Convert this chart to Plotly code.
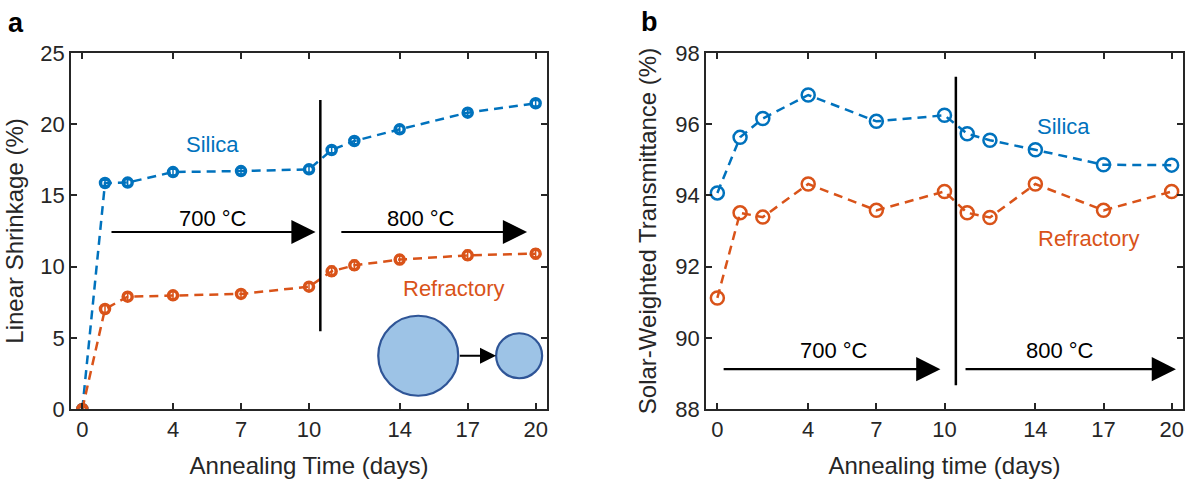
import plotly.graph_objects as go

# ---- data ----
days = [0, 1, 2, 4, 7, 10, 11, 12, 14, 17, 20]
shrink_silica = [0.0, 15.87, 15.9, 16.64, 16.71, 16.83, 18.19, 18.82, 19.64, 20.81, 21.47]
shrink_silica_err = [0.1, 0.2, 0.2, 0.2, 0.2, 0.2, 0.2, 0.2, 0.2, 0.2, 0.2]
shrink_refr = [0.0, 7.02, 7.89, 7.98, 8.08, 8.59, 9.67, 10.09, 10.49, 10.79, 10.91]
shrink_refr_err = [0.1, 0.3, 0.3, 0.3, 0.3, 0.3, 0.35, 0.35, 0.35, 0.35, 0.35]
trans_silica = [94.07, 95.63, 96.16, 96.82, 96.08, 96.25, 95.73, 95.55, 95.28, 94.86, 94.85]
trans_refr = [91.12, 93.51, 93.39, 94.32, 93.58, 94.11, 93.51, 93.38, 94.32, 93.58, 94.11]
xticks = [0, 4, 7, 10, 14, 17, 20]
yticks_a = [0, 5, 10, 15, 20, 25]
yticks_b = [88, 90, 92, 94, 96, 98]

BLUE = "#0072BD"
ORANGE = "#D95319"
AX = "#262626"
FONT = "Liberation Sans, Arial, sans-serif"

fig = go.Figure()

# Panel a
fig.add_trace(go.Scatter(x=days, y=shrink_silica, mode="lines+markers",
                         error_y=dict(type="data", array=shrink_silica_err, color=BLUE, thickness=1.5, width=3),
                         line=dict(color=BLUE, width=2.5, dash="9px,6px"),
                         marker=dict(symbol="circle-open", size=9, color=BLUE, line=dict(width=3.5, color=BLUE)),
                         xaxis="x", yaxis="y", showlegend=False))
fig.add_trace(go.Scatter(x=days, y=shrink_refr, mode="lines+markers",
                         error_y=dict(type="data", array=shrink_refr_err, color=ORANGE, thickness=1.5, width=3),
                         line=dict(color=ORANGE, width=2.5, dash="9px,6px"),
                         marker=dict(symbol="circle-open", size=9, color=ORANGE, line=dict(width=3.5, color=ORANGE)),
                         xaxis="x", yaxis="y", showlegend=False))
# Panel b
fig.add_trace(go.Scatter(x=days, y=trans_silica, mode="lines+markers",
                         line=dict(color=BLUE, width=2.5, dash="9px,6px"),
                         marker=dict(symbol="circle-open", size=13, color=BLUE, line=dict(width=2.5, color=BLUE)),
                         xaxis="x2", yaxis="y2", showlegend=False))
fig.add_trace(go.Scatter(x=days, y=trans_refr, mode="lines+markers",
                         line=dict(color=ORANGE, width=2.5, dash="9px,6px"),
                         marker=dict(symbol="circle-open", size=13, color=ORANGE, line=dict(width=2.5, color=ORANGE)),
                         xaxis="x2", yaxis="y2", showlegend=False))

W, H = 1188, 479
def px_x(p):
    return p / W
def px_y(p):
    return 1 - p / H

xa_dom = [px_x(71), px_x(547)]
xb_dom = [px_x(706), px_x(1183)]
y_dom = [px_y(409), px_y(53)]

common_axis = dict(showline=True, linecolor=AX, linewidth=1.8, mirror="ticks",
                   ticks="inside", ticklen=6, tickwidth=1.8, tickcolor=AX,
                   showgrid=False, zeroline=False, automargin=False,
                   tickfont=dict(family=FONT, size=22, color=AX))
title_font = dict(family=FONT, size=24, color=AX)

fig.update_layout(
    width=W, height=H,
    margin=dict(l=0, r=0, t=0, b=0),
    paper_bgcolor="white", plot_bgcolor="white",
    xaxis=dict(domain=xa_dom, range=[-0.5, 20.5], tickvals=xticks, anchor="y",
               title=dict(text="Annealing Time (days)", font=title_font, standoff=16), **common_axis),
    yaxis=dict(domain=y_dom, range=[0, 25], tickvals=yticks_a, anchor="x",
               title=dict(text="Linear Shrinkage (%)", font=title_font, standoff=10), **common_axis),
    xaxis2=dict(domain=xb_dom, range=[-0.5, 20.5], tickvals=xticks, anchor="y2",
                title=dict(text="Annealing time (days)", font=title_font, standoff=16), **common_axis),
    yaxis2=dict(domain=y_dom, range=[88, 98], tickvals=yticks_b, anchor="x2",
                title=dict(text="Solar-Weighted Transmittance (%)", font=title_font, standoff=12), **common_axis),
)

shapes = [
    # vertical dividers
    dict(type="line", xref="x", yref="y", x0=10.5, x1=10.5, y0=5.46, y1=21.7,
         line=dict(color="black", width=2.5)),
    dict(type="line", xref="x2", yref="y2", x0=10.5, x1=10.5, y0=88.67, y1=97.33,
         line=dict(color="black", width=2.5)),
    # inset circles (pixel sized)
    dict(type="circle", xref="x", yref="y", xsizemode="pixel", ysizemode="pixel",
         xanchor=14.82, yanchor=3.74, x0=-40, x1=40, y0=-40, y1=40,
         fillcolor="#9DC3E6", line=dict(color="#2F5597", width=2.2)),
    dict(type="circle", xref="x", yref="y", xsizemode="pixel", ysizemode="pixel",
         xanchor=19.27, yanchor=3.74, x0=-23, x1=23, y0=-22.5, y1=22.5,
         fillcolor="#9DC3E6", line=dict(color="#2F5597", width=2.2)),
]
fig.update_layout(shapes=shapes)

txt = dict(family=FONT, size=22)
annotations = [
    dict(text="Silica", x=5.75, y=18.57, xref="x", yref="y", showarrow=False, font=dict(color=BLUE, **txt)),
    dict(text="Refractory", x=16.37, y=8.47, xref="x", yref="y", showarrow=False, font=dict(color=ORANGE, **txt)),
    dict(text="700 °C", x=5.75, y=13.4, xref="x", yref="y", showarrow=False, font=dict(color="black", **txt)),
    dict(text="800 °C", x=14.93, y=13.4, xref="x", yref="y", showarrow=False, font=dict(color="black", **txt)),
    dict(text="Silica", x=15.25, y=95.93, xref="x2", yref="y2", showarrow=False, font=dict(color=BLUE, **txt)),
    dict(text="Refractory", x=16.35, y=92.78, xref="x2", yref="y2", showarrow=False, font=dict(color=ORANGE, **txt)),
    dict(text="700 °C", x=5.14, y=89.63, xref="x2", yref="y2", showarrow=False, font=dict(color="black", **txt)),
    dict(text="800 °C", x=15.1, y=89.63, xref="x2", yref="y2", showarrow=False, font=dict(color="black", **txt)),
    dict(text="<b>a</b>", x=px_x(6), y=px_y(23), xref="paper", yref="paper", xanchor="left", yanchor="middle",
         showarrow=False, font=dict(family=FONT, size=27, color="black")),
    dict(text="<b>b</b>", x=px_x(639), y=px_y(22), xref="paper", yref="paper", xanchor="left", yanchor="middle",
         showarrow=False, font=dict(family=FONT, size=27, color="black")),
]

def arrow(x0, x1, y, xr, yr, size=2.2, width=2.2):
    return dict(x=x1, y=y, ax=x0, ay=y, xref=xr, yref=yr, axref=xr, ayref=yr,
                text="", showarrow=True, arrowhead=2, arrowsize=size, arrowwidth=width,
                arrowcolor="black", standoff=0, startstandoff=0)

annotations += [
    arrow(1.22, 10.29, 12.43, "x", "y"),
    arrow(11.36, 19.62, 12.43, "x", "y"),
    arrow(16.59, 18.25, 3.74, "x", "y", size=1.6, width=2),
    arrow(0.21, 9.82, 89.12, "x2", "y2"),
    arrow(10.86, 20.19, 89.12, "x2", "y2"),
]
fig.update_layout(annotations=annotations)

fig.write_html("out.html", config={"displayModeBar": False},
               post_script="document.body.style.margin='0';document.body.style.overflow='hidden';")
